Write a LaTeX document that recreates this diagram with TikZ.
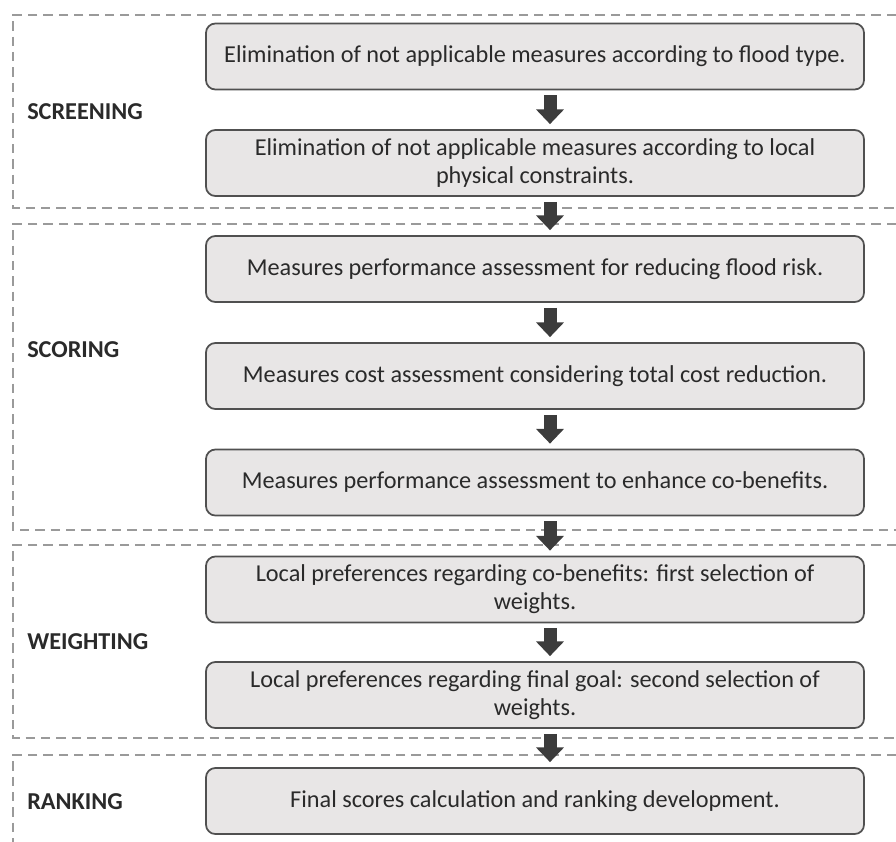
\documentclass[tikz,border=0pt]{standalone}
\usepackage{fontspec}
\setmainfont{Carlito}
\usetikzlibrary{arrows.meta}
\definecolor{boxfill}{HTML}{E8E6E6}
\definecolor{boxdraw}{HTML}{505050}
\definecolor{dashc}{HTML}{9A9A9A}
\definecolor{arrc}{HTML}{3C3C3C}
\definecolor{txt}{HTML}{2A2A2A}
\tikzset{
  stepbox/.style={draw=boxdraw, line width=1.3pt, fill=boxfill, rounded corners=7pt,
    minimum width=493.5pt, minimum height=49.5pt, align=center, inner sep=2pt,
    font=\fontsize{18.2pt}{21pt}\selectfont, text=txt},
  phase/.style={anchor=west, inner sep=0pt, font=\bfseries\fontsize{18.2pt}{21pt}\selectfont, text=txt},
  region/.style={draw=dashc, line width=1.1pt, dash pattern=on 7pt off 4.5pt},
  blockarrow/.style={draw=arrc, line width=9.75pt,
    -{Triangle[width=20.25pt,length=11pt]}, shorten <=3.75pt, shorten >=3.75pt},
}
\begin{document}
\begin{tikzpicture}[x=0.75pt,y=-0.75pt]
\useasboundingbox (0,0) rectangle (896,842);
% regions
\draw[region] (896,15) -- (13,15) -- (13,208) -- (896,208);
\draw[region] (896,224) -- (13,224) -- (13,530) -- (896,530);
\draw[region] (896,545) -- (13,545) -- (13,738) -- (896,738);
\draw[region] (896,755) -- (13,755) -- (13,842);
% labels
\node[phase] (l1) at (27,112) {SCREENING};
\node[phase] (l2) at (27,350) {SCORING};
\node[phase] (l3) at (27,642) {WEIGHTING};
\node[phase] (l4) at (27,802) {RANKING};
% boxes
\node[stepbox] (b1) at (535,56.5) {Elimination of not applicable measures according to flood type.};
\node[stepbox] (b2) at (535,163) {Elimination of not applicable measures according to local\\physical constraints.};
\node[stepbox] (b3) at (535,269) {Measures performance assessment for reducing flood risk.};
\node[stepbox] (b4) at (535,376) {Measures cost assessment considering total cost reduction.};
\node[stepbox] (b5) at (535,482.5) {Measures performance assessment to enhance co-benefits.};
\node[stepbox] (b6) at (535,589.5) {Local preferences regarding co-benefits: first selection of\\weights.};
\node[stepbox] (b7) at (535,695) {Local preferences regarding final goal: second selection of\\weights.};
\node[stepbox] (b8) at (535,801) {Final scores calculation and ranking development.};
% arrows
\coordinate (ax) at (550,0);
\foreach \a/\b in {b1/b2,b2/b3,b3/b4,b4/b5,b5/b6,b6/b7,b7/b8}{
  \draw[blockarrow] (\a.south -| ax) -- (\b.north -| ax);
}
\end{tikzpicture}
\end{document}
